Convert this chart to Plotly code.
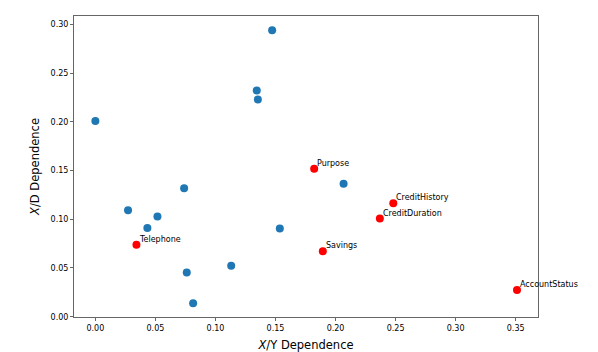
import plotly.graph_objects as go

# Blue (unlabelled) points
blue_x = [0.0, 0.1472, 0.1344, 0.1353, 0.0739, 0.0272, 0.0517, 0.0433, 0.1536, 0.0761, 0.1131, 0.0814, 0.2067]
blue_y = [0.2007, 0.2939, 0.2321, 0.2229, 0.1317, 0.1092, 0.1027, 0.0911, 0.0904, 0.0454, 0.0522, 0.0137, 0.1365]

# Red (labelled) points
red_names = ["Telephone", "Purpose", "CreditHistory", "CreditDuration", "Savings", "AccountStatus"]
red_x = [0.0342, 0.1822, 0.2481, 0.2369, 0.1894, 0.3511]
red_y = [0.0737, 0.1519, 0.1164, 0.1007, 0.0672, 0.0273]

x_ticks = [0.0, 0.05, 0.10, 0.15, 0.20, 0.25, 0.30, 0.35]
y_ticks = [0.0, 0.05, 0.10, 0.15, 0.20, 0.25, 0.30]

font = "DejaVu Sans"
fig = go.Figure()
fig.add_trace(go.Scatter(x=blue_x, y=blue_y, mode="markers",
                         marker=dict(color="#1f77b4", size=8), showlegend=False))
fig.add_trace(go.Scatter(x=red_x, y=red_y, mode="markers",
                         marker=dict(color="red", size=8), showlegend=False))

for n, xv, yv in zip(red_names, red_x, red_y):
    fig.add_annotation(x=xv, y=yv, text=n, showarrow=False, xanchor="left", yanchor="bottom",
                       xshift=1, yshift=-1, font=dict(family=font, size=8, color="black"))

axis_common = dict(showline=True, linecolor="#666666", linewidth=1, mirror=True,
                   ticks="outside", ticklen=3, tickcolor="#666666", showgrid=False,
                   zeroline=False, automargin=False,
                   tickfont=dict(family=font, size=8, color="black"))

fig.update_layout(
    width=590, height=344,
    margin=dict(l=66, r=60, t=8, b=35),
    plot_bgcolor="white", paper_bgcolor="white",
    xaxis=dict(range=[-0.0178, 0.3686], tickvals=x_ticks,
               ticktext=[f"{v:.2f}" for v in x_ticks],
               title=dict(text="<i>X</i>/Y Dependence", font=dict(family=font, size=11.5, color="black"), standoff=9),
               **axis_common),
    yaxis=dict(range=[-0.0003, 0.3085], tickvals=y_ticks,
               ticktext=[f"{v:.2f}" for v in y_ticks],
               title=dict(text="<i>X</i>/D Dependence", font=dict(family=font, size=11.5, color="black"), standoff=8),
               **axis_common),
)

fig.write_html("out.html")
